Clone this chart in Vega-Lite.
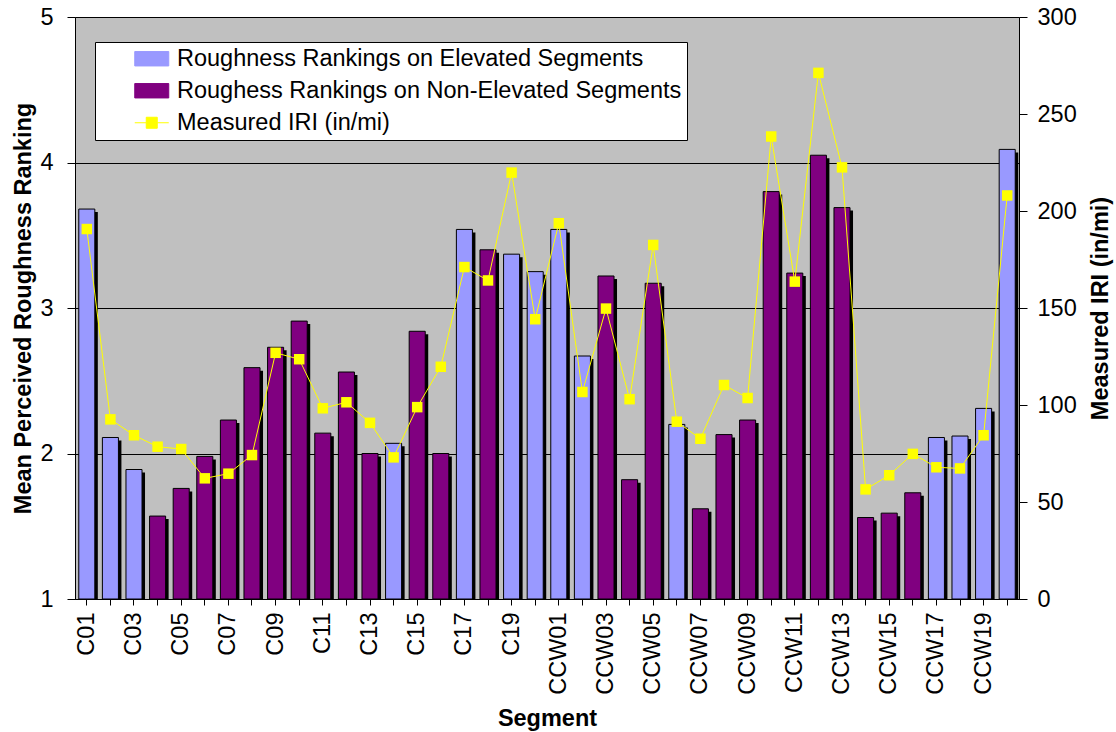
{
  "$schema": "https://vega.github.io/schema/vega-lite/v6.json",
  "width": 944,
  "height": 582,
  "autosize": "none",
  "padding": {"left": 75, "top": 17, "right": 97, "bottom": 133},
  "background": "white",
  "config": {
    "font": "Liberation Sans",
    "view": {"fill": "#C0C0C0", "stroke": "#808080", "strokeWidth": 1},
    "axis": {
      "labelFont": "Liberation Sans", "labelFontSize": 23.5, "labelColor": "#000000",
      "titleFont": "Liberation Sans", "titleFontSize": 23.5, "titleFontWeight": "bold", "titleColor": "#000000",
      "domainColor": "#000000", "tickColor": "#000000", "domainWidth": 1, "tickWidth": 1
    },
    "legend": {"labelFont": "Liberation Sans", "labelFontSize": 23.5, "labelColor": "#000000"}
  },
  "data": {"values": [
    {"seg": "C01", "type": "Roughness Rankings on Elevated Segments", "rank": 3.68, "iri": 190.7},
    {"seg": "C02", "type": "Roughness Rankings on Elevated Segments", "rank": 2.11, "iri": 92.6},
    {"seg": "C03", "type": "Roughness Rankings on Elevated Segments", "rank": 1.89, "iri": 84.4},
    {"seg": "C04", "type": "Roughess Rankings on Non-Elevated Segments", "rank": 1.57, "iri": 78.5},
    {"seg": "C05", "type": "Roughess Rankings on Non-Elevated Segments", "rank": 1.76, "iri": 77.3},
    {"seg": "C06", "type": "Roughess Rankings on Non-Elevated Segments", "rank": 1.98, "iri": 62.2},
    {"seg": "C07", "type": "Roughess Rankings on Non-Elevated Segments", "rank": 2.23, "iri": 64.6},
    {"seg": "C08", "type": "Roughess Rankings on Non-Elevated Segments", "rank": 2.59, "iri": 74.2},
    {"seg": "C09", "type": "Roughess Rankings on Non-Elevated Segments", "rank": 2.73, "iri": 126.9},
    {"seg": "C10", "type": "Roughess Rankings on Non-Elevated Segments", "rank": 2.91, "iri": 123.6},
    {"seg": "C11", "type": "Roughess Rankings on Non-Elevated Segments", "rank": 2.14, "iri": 98.3},
    {"seg": "C12", "type": "Roughess Rankings on Non-Elevated Segments", "rank": 2.56, "iri": 101.4},
    {"seg": "C13", "type": "Roughess Rankings on Non-Elevated Segments", "rank": 2.00, "iri": 90.8},
    {"seg": "C14", "type": "Roughness Rankings on Elevated Segments", "rank": 2.07, "iri": 73.0},
    {"seg": "C15", "type": "Roughess Rankings on Non-Elevated Segments", "rank": 2.84, "iri": 98.9},
    {"seg": "C16", "type": "Roughess Rankings on Non-Elevated Segments", "rank": 2.00, "iri": 119.7},
    {"seg": "C17", "type": "Roughness Rankings on Elevated Segments", "rank": 3.54, "iri": 171.1},
    {"seg": "C18", "type": "Roughess Rankings on Non-Elevated Segments", "rank": 3.40, "iri": 164.2},
    {"seg": "C19", "type": "Roughness Rankings on Elevated Segments", "rank": 3.37, "iri": 219.8},
    {"seg": "C20", "type": "Roughness Rankings on Elevated Segments", "rank": 3.25, "iri": 144.2},
    {"seg": "CCW01", "type": "Roughness Rankings on Elevated Segments", "rank": 3.54, "iri": 193.7},
    {"seg": "CCW02", "type": "Roughness Rankings on Elevated Segments", "rank": 2.67, "iri": 106.7},
    {"seg": "CCW03", "type": "Roughess Rankings on Non-Elevated Segments", "rank": 3.22, "iri": 149.7},
    {"seg": "CCW04", "type": "Roughess Rankings on Non-Elevated Segments", "rank": 1.82, "iri": 103.0},
    {"seg": "CCW05", "type": "Roughess Rankings on Non-Elevated Segments", "rank": 3.17, "iri": 182.5},
    {"seg": "CCW06", "type": "Roughness Rankings on Elevated Segments", "rank": 2.20, "iri": 91.4},
    {"seg": "CCW07", "type": "Roughess Rankings on Non-Elevated Segments", "rank": 1.62, "iri": 82.6},
    {"seg": "CCW08", "type": "Roughess Rankings on Non-Elevated Segments", "rank": 2.13, "iri": 110.3},
    {"seg": "CCW09", "type": "Roughess Rankings on Non-Elevated Segments", "rank": 2.23, "iri": 103.6},
    {"seg": "CCW10", "type": "Roughess Rankings on Non-Elevated Segments", "rank": 3.80, "iri": 238.4},
    {"seg": "CCW11", "type": "Roughess Rankings on Non-Elevated Segments", "rank": 3.24, "iri": 163.6},
    {"seg": "CCW12", "type": "Roughess Rankings on Non-Elevated Segments", "rank": 4.05, "iri": 271.2},
    {"seg": "CCW13", "type": "Roughess Rankings on Non-Elevated Segments", "rank": 3.69, "iri": 222.5},
    {"seg": "CCW14", "type": "Roughess Rankings on Non-Elevated Segments", "rank": 1.56, "iri": 56.5},
    {"seg": "CCW15", "type": "Roughess Rankings on Non-Elevated Segments", "rank": 1.59, "iri": 63.8},
    {"seg": "CCW16", "type": "Roughess Rankings on Non-Elevated Segments", "rank": 1.73, "iri": 74.8},
    {"seg": "CCW17", "type": "Roughness Rankings on Elevated Segments", "rank": 2.11, "iri": 67.9},
    {"seg": "CCW18", "type": "Roughness Rankings on Elevated Segments", "rank": 2.12, "iri": 67.3},
    {"seg": "CCW19", "type": "Roughness Rankings on Elevated Segments", "rank": 2.31, "iri": 84.4},
    {"seg": "CCW20", "type": "Roughness Rankings on Elevated Segments", "rank": 4.09, "iri": 208.0}
  ]},
  "encoding": {
    "x": {
      "field": "seg", "type": "nominal", "sort": null,
      "scale": {"paddingInner": 0.32, "paddingOuter": 0.16},
      "axis": {
        "title": "Segment", "labelAngle": -90, "labelOverlap": false,
        "labelExpr": "toNumber(slice(datum.value, -2)) % 2 == 1 ? datum.value : ''",
        "tickSize": 6, "labelPadding": 7, "titlePadding": 12, "grid": false
      }
    }
  },
  "layer": [
    {
      "encoding": {
        "y": {
          "field": "rank", "type": "quantitative",
          "scale": {"domain": [1, 5], "nice": false, "zero": false},
          "axis": {
            "orient": "left", "title": "Mean Perceived Roughness Ranking", "values": [1, 2, 3, 4, 5], "format": "d",
            "grid": true, "gridColor": "#000000", "gridWidth": 1, "gridOpacity": 1,
            "tickSize": 8, "labelPadding": 14, "titlePadding": 4
          }
        },
        "y2": {"datum": 1}
      },
      "layer": [
        {"mark": {"type": "bar", "color": "#000000", "xOffset": 3, "yOffset": 3}},
        {
          "mark": {"type": "bar", "stroke": "#000000", "strokeWidth": 1},
          "encoding": {
            "color": {
              "field": "type", "type": "nominal",
              "scale": {
                "domain": ["Roughness Rankings on Elevated Segments", "Roughess Rankings on Non-Elevated Segments", "Measured IRI (in/mi)"],
                "range": ["#9999FF", "#800080", "#FFFF00"]
              },
              "legend": {
                "title": null, "orient": "none", "legendX": 20, "legendY": 25,
                "fillColor": "#FFFFFF", "strokeColor": "#000000", "padding": 5,
                "symbolOffset": 40, "labelOffset": 13.5, "rowPadding": 7, "symbolSize": 400, "labelLimit": 800,
                "encode": {
                  "labels": {
                    "update": {
                      "text": {"signal": "datum.label == 'Roughess Rankings on Non-Elevated Segments' ? datum.label + '\u00a0\u00a0\u00a0\u00a0\u00a0' : datum.label"}
                    }
                  },
                  "symbols": {
                    "update": {
                      "shape": {"signal": "datum.value == 'Measured IRI (in/mi)' ? 'M-1.7,0H-0.55M0.55,0H1.7M-0.55,-0.55H0.55V0.55H-0.55Z' : 'M-1.7,-0.72H1.7V0.72H-1.7Z'"},
                      "fill": {"signal": "datum.value == 'Measured IRI (in/mi)' ? '#FFFF00' : (datum.value == 'Roughness Rankings on Elevated Segments' ? '#9999FF' : '#800080')"},
                      "stroke": {"signal": "datum.value == 'Measured IRI (in/mi)' ? '#FFFF00' : '#000000'"},
                      "strokeWidth": {"value": 1},
                      "opacity": {"value": 1},
                      "fillOpacity": {"value": 1}
                    }
                  }
                }
              }
            }
          }
        }
      ]
    },
    {
      "encoding": {
        "y": {
          "field": "iri", "type": "quantitative",
          "scale": {"domain": [0, 300], "nice": false},
          "axis": {
            "orient": "right", "title": "Measured IRI (in/mi)", "values": [0, 50, 100, 150, 200, 250, 300],
            "grid": false, "tickSize": 8, "labelPadding": 10, "titlePadding": 12,
            "titleAngle": -90, "titleBaseline": "top"
          }
        },
        "color": {
          "datum": "Measured IRI (in/mi)",
          "legend": {
            "title": null, "orient": "none", "legendX": 20, "legendY": 25,
            "fillColor": "#FFFFFF", "strokeColor": "#000000", "padding": 5,
            "symbolOffset": 40, "labelOffset": 13.5, "rowPadding": 7, "symbolSize": 400, "labelLimit": 800,
            "encode": {
              "labels": {
                "update": {
                  "text": {"signal": "datum.label == 'Roughess Rankings on Non-Elevated Segments' ? datum.label + '\u00a0\u00a0\u00a0\u00a0\u00a0' : datum.label"}
                }
              },
              "symbols": {
                "update": {
                  "shape": {"signal": "datum.value == 'Measured IRI (in/mi)' ? 'M-1.7,0H-0.55M0.55,0H1.7M-0.55,-0.55H0.55V0.55H-0.55Z' : 'M-1.7,-0.72H1.7V0.72H-1.7Z'"},
                  "fill": {"signal": "datum.value == 'Measured IRI (in/mi)' ? '#FFFF00' : (datum.value == 'Roughness Rankings on Elevated Segments' ? '#9999FF' : '#800080')"},
                  "stroke": {"signal": "datum.value == 'Measured IRI (in/mi)' ? '#FFFF00' : '#000000'"},
                  "strokeWidth": {"value": 1},
                  "opacity": {"value": 1},
                  "fillOpacity": {"value": 1}
                }
              }
            }
          }
        }
      },
      "mark": {"type": "line", "strokeWidth": 1, "point": {"shape": "square", "size": 110, "filled": true, "opacity": 1}}
    }
  ],
  "resolve": {"scale": {"y": "independent"}}
}
